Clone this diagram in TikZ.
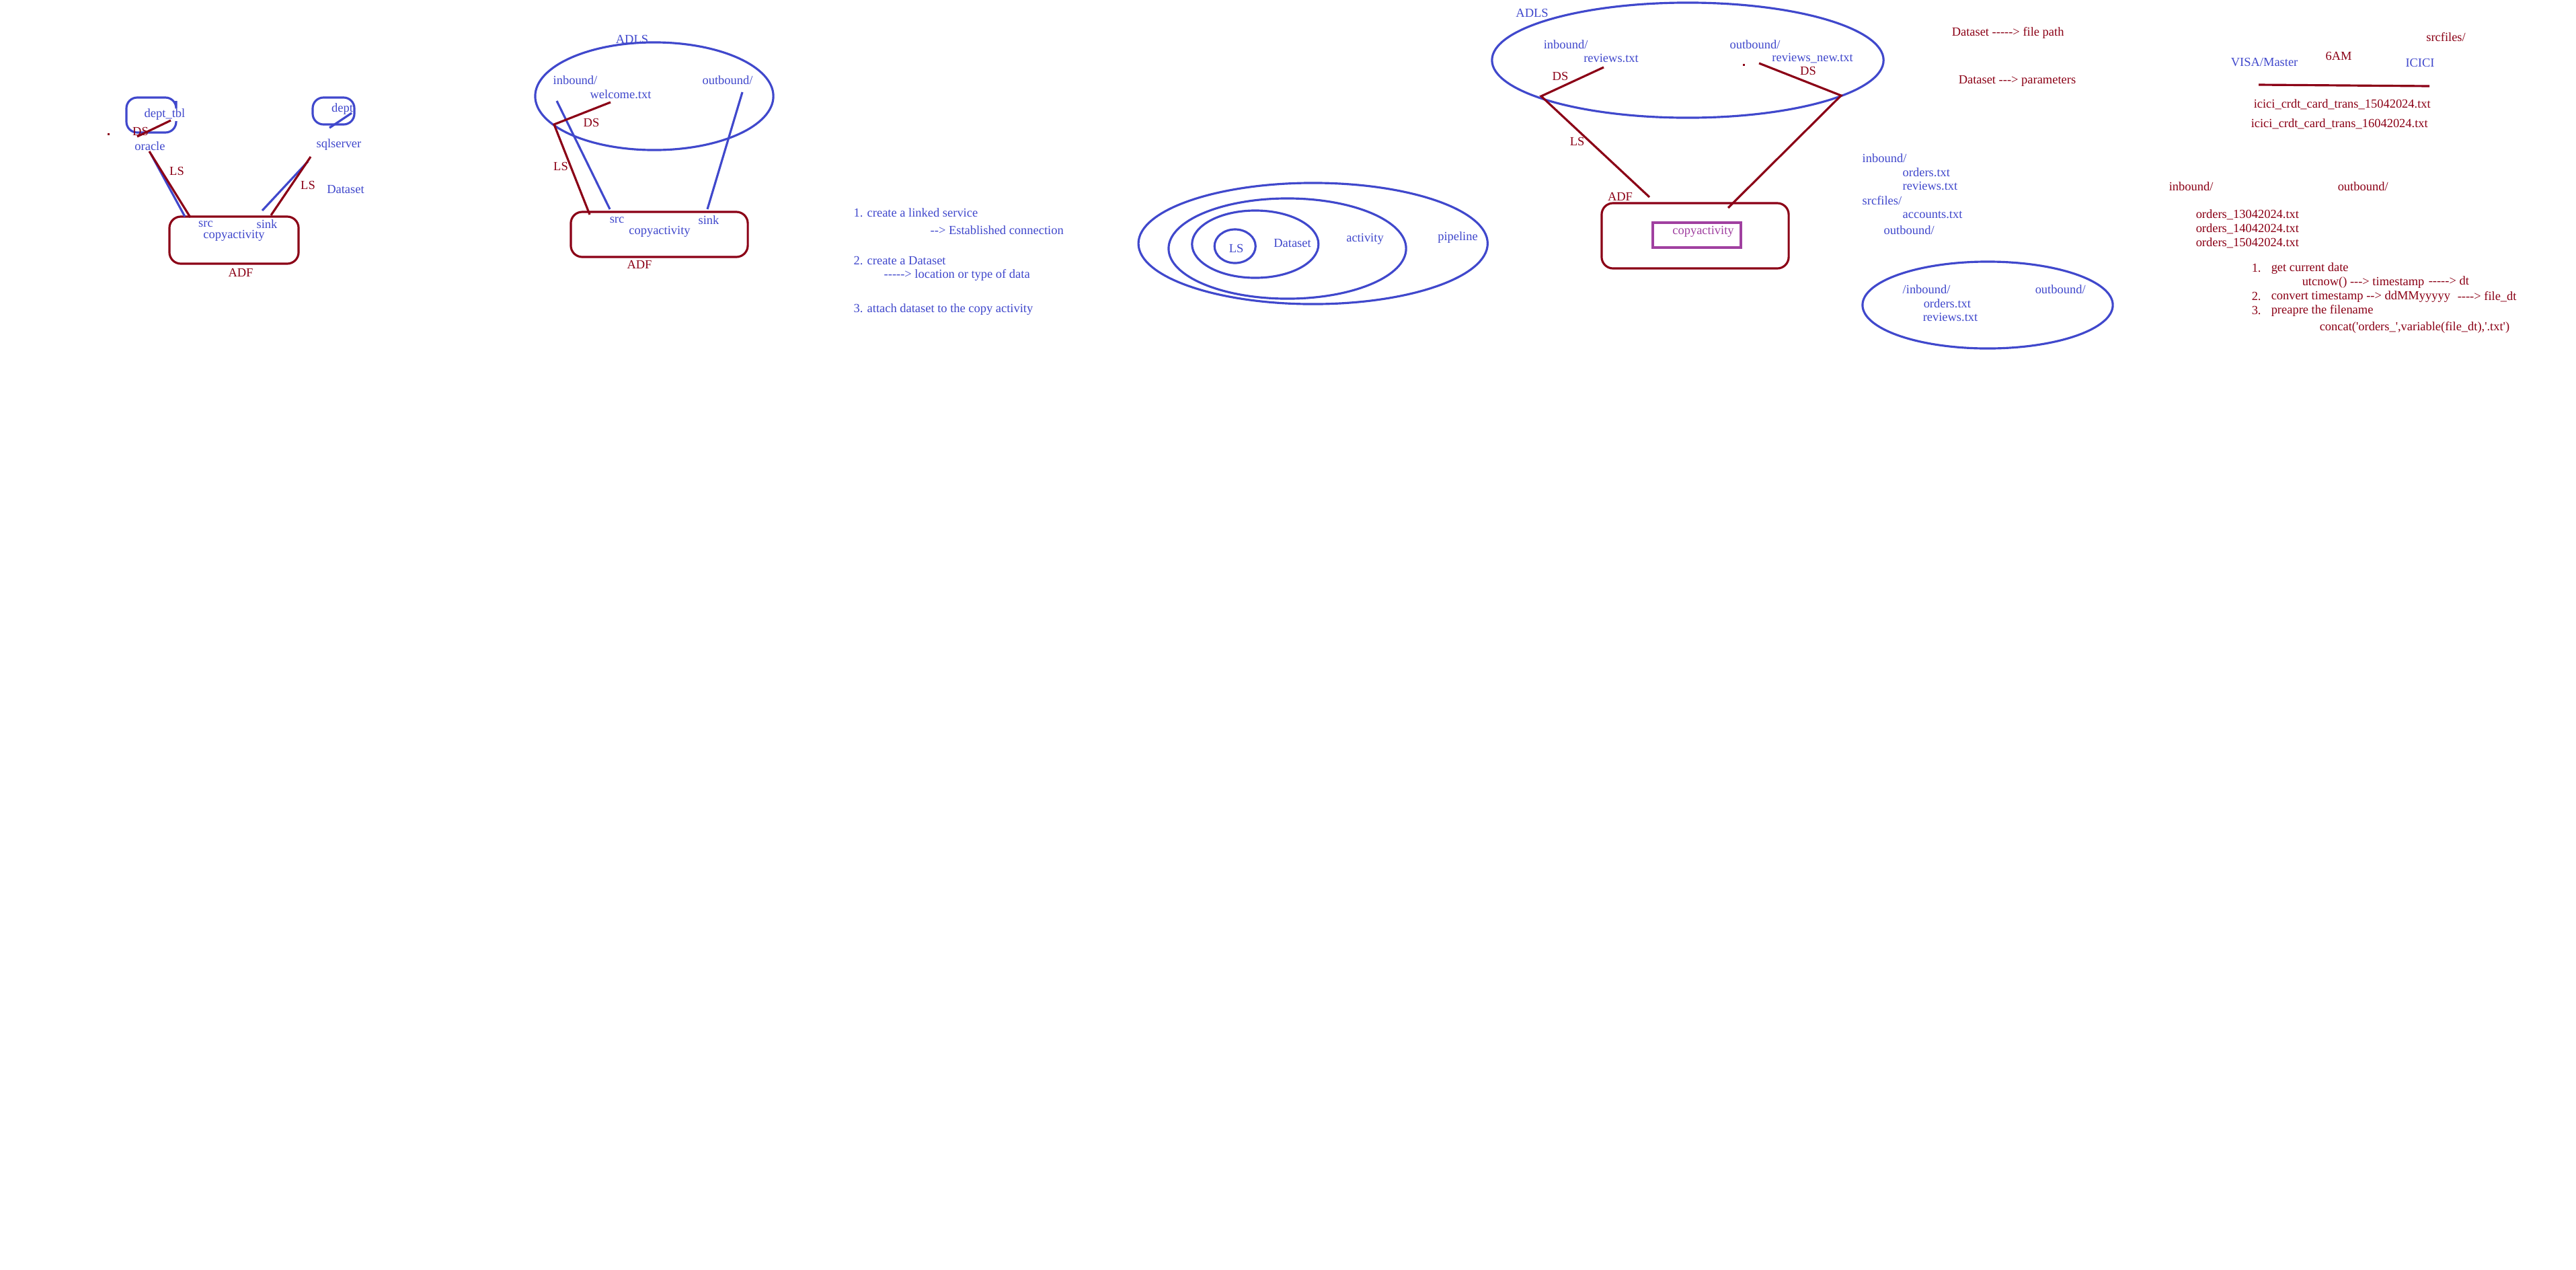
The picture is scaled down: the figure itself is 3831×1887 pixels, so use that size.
\documentclass[tikz,border=0pt]{standalone}
\usepackage{fontspec}
\setmainfont{Liberation Serif}[Ligatures=TeXOff]
\usetikzlibrary{shapes.geometric}
\definecolor{adfblue}{RGB}{64,72,204}
\definecolor{adfred}{RGB}{139,0,22}
\definecolor{adfpurple}{RGB}{160,64,160}
\tikzset{
  bl/.style={text=adfblue},
  rd/.style={text=adfred},
  bline/.style={draw=adfblue, line width=0.9pt},
  rline/.style={draw=adfred, line width=0.9pt},
  adfbox/.style={rline, rectangle, rounded corners=1.7mm},
  folder/.style={bline, rectangle, rounded corners=1.6mm},
  store/.style={bline, ellipse},
  lft/.style={anchor=west},
}
\begin{document}
\begin{tikzpicture}[x=0.01cm, y=-0.01cm, every node/.style={inner sep=0pt, font=\fontsize{5.25}{6.3}\selectfont}]
\useasboundingbox[fill=white] (0,0) rectangle (3831,1887);

% oracle -> ADF -> sqlserver
\draw[bline, rounded corners=1.6mm] (262,180) -- (262,197) -- (188,197) -- (188,145) -- (262,145) -- (262,150);
\node[folder, minimum width=0.62cm, minimum height=0.40cm] (deptbox) at (496,165) {};
\node[adfbox, minimum width=1.92cm, minimum height=0.70cm] (adf1) at (348,357) {};
\node[bl] (depttbl) at (245,170) {dept\_tbl};
\node[rd] (ds1) at (209,195) {DS};
\node[bl] (oracle) at (223,217) {oracle};
\node[rd] (ls1) at (263,254) {LS};
\node[bl] (dept) at (509,162) {dept};
\node[bl] (sqlserver) at (504,215) {sqlserver};
\node[rd] (ls2) at (458,275) {LS};
\node[bl] (dataset1) at (514,282) {Dataset};
\node[bl] (src1) at (306,333) {src};
\node[bl] (sink1) at (397,333) {sink};
\node[bl] (copy1) at (348,350) {copyactivity};
\node[rd] (adf1lbl) at (358,405) {ADF};
\coordinate (dsA) at (204,203); \coordinate (dsB) at (254,179);
\coordinate (lsA) at (222,225); \coordinate (lsB) at (283,323);
\coordinate (blA) at (225,230); \coordinate (blB) at (275,322);
\coordinate (deA) at (490,190); \coordinate (deB) at (523,168);
\coordinate (lsC) at (462,233); \coordinate (lsD) at (403,320);
\coordinate (blC) at (458,240); \coordinate (blD) at (390,313);
\draw[bline] (blA) -- (blB);
\draw[bline] (blC) -- (blD);
\draw[bline] (deA) -- (deB);
\draw[rline] (dsA) -- (dsB);
\draw[rline] (lsA) -- (lsB);
\draw[rline] (lsC) -- (lsD);
\fill[adfred] (159.5,197.5) rectangle +(3,3);

% ADLS -> ADF
\node[store, minimum width=3.54cm, minimum height=1.60cm] (adls2) at (973,143) {};
\node[adfbox, minimum width=2.63cm, minimum height=0.67cm] (adf2) at (980.5,348.5) {};
\node[bl] (adls2lbl) at (940,58) {ADLS};
\node[bl] (in2) at (855.5,119) {inbound/};
\node[bl] (welcome) at (923,140) {welcome.txt};
\node[bl] (out2) at (1082,119) {outbound/};
\node[rd] (ds2) at (879.5,182) {DS};
\node[rd] (ls3) at (834,247) {LS};
\node[bl] (src2) at (917.5,327) {src};
\node[bl] (sink2) at (1054,327) {sink};
\node[bl] (copy2) at (981,344) {copyactivity};
\node[rd] (adf2lbl) at (951,393) {ADF};
\coordinate (ds2a) at (908,152); \coordinate (ds2b) at (824,185);
\coordinate (ls2b) at (877,319);
\coordinate (bl2a) at (828,150); \coordinate (bl2b) at (907,311);
\coordinate (bl2c) at (1104,137); \coordinate (bl2d) at (1052,311);
\draw[bline] (bl2a) -- (bl2b);
\draw[bline] (bl2c) -- (bl2d);
\draw[rline] (ds2a) -- (ds2b) -- (ls2b);

% steps
\node[bl, lft] (step1) at (1269,316) {1. create a linked service};
\node[bl, lft] (step1b) at (1383,342) {--> Established connection};
\node[bl, lft] (step2) at (1269,388) {2. create a Dataset};
\node[bl, lft] (step2b) at (1314,409) {-----> location or type of data};
\node[bl, lft] (step3) at (1269,460) {3. attach dataset to the copy activity};

% nested scopes
\node[store, minimum width=5.19cm, minimum height=1.80cm] (pipe) at (1952.7,362) {};
\node[store, minimum width=3.53cm, minimum height=1.49cm] (act) at (1914.5,369.5) {};
\node[store, minimum width=1.88cm, minimum height=1.00cm] (dset) at (1866.8,363) {};
\node[store, minimum width=0.61cm, minimum height=0.50cm] (lsring) at (1836.7,366) {};
\node[bl] (lslbl) at (1838.5,369) {LS};
\node[bl] (dsetlbl) at (1922,362) {Dataset};
\node[bl] (actlbl) at (2030,355) {activity};
\node[bl] (pipelbl) at (2168,353) {pipeline};

% ADLS reviews -> ADF
\node[store, minimum width=5.82cm, minimum height=1.71cm] (adls3) at (2510,89.5) {};
\node[adfbox, minimum width=2.78cm, minimum height=0.97cm] (adf3) at (2521,350.5) {};
\node[rectangle, draw=adfpurple, line width=0.9pt, minimum width=1.31cm, minimum height=0.37cm] (copybox) at (2523.5,349.5) {};
\node[text=adfpurple] (copy3) at (2533,344) {copyactivity};
\node[bl] (adls3lbl) at (2278.5,19) {ADLS};
\node[bl] (in3) at (2328.6,66) {inbound/};
\node[bl] (rev3) at (2396,87) {reviews.txt};
\node[bl] (out3) at (2610,66) {outbound/};
\node[bl] (revnew) at (2695.6,87) {reviews\_new.txt};
\node[rd] (ds3) at (2320.5,113) {DS};
\node[rd] (ds4) at (2689,105) {DS};
\node[rd] (ls4) at (2345.5,210) {LS};
\node[rd] (adf3lbl) at (2409.5,292) {ADF};
\coordinate (ds3a) at (2385,100); \coordinate (ds3b) at (2292,143);
\coordinate (ls3b) at (2453,293);
\coordinate (ds3c) at (2616,94); \coordinate (ds3d) at (2738,142);
\coordinate (ls3d) at (2570,309);
\draw[rline] (ds3a) -- (ds3b) -- (ls3b);
\draw[rline] (ds3c) -- (ds3d) -- (ls3d);
\fill[adfred] (2591.5,94.5) rectangle +(3,3);

% folders
\node[rd, lft] (dsfile) at (2902,49) {Dataset -----> file path};
\node[rd, lft] (dsparam) at (2912,120) {Dataset ---> parameters};
\node[bl, lft] (in5) at (2769,235) {inbound/};
\node[bl, lft] (ord5) at (2829,256) {orders.txt};
\node[bl, lft] (rev5) at (2829,277) {reviews.txt};
\node[bl, lft] (src5) at (2769,298) {srcfiles/};
\node[bl, lft] (acc5) at (2829,319) {accounts.txt};
\node[bl, lft] (out5) at (2801,342) {outbound/};
\node[store, minimum width=3.72cm, minimum height=1.29cm] (adls4) at (2956,453.5) {};
\node[bl, lft] (in6) at (2829,430) {/inbound/};
\node[bl, lft] (out6) at (3026,430) {outbound/};
\node[bl, lft] (ord6) at (2860,451) {orders.txt};
\node[bl, lft] (rev6) at (2859,472) {reviews.txt};

% daily files
\node[rd] (srcf) at (3637.5,55) {srcfiles/};
\node[rd] (sixam) at (3478,83) {6AM};
\node[bl] (visa) at (3367.6,93) {VISA/Master};
\node[bl] (icici) at (3599,93) {ICICI};
\coordinate (rl1) at (3359,126); \coordinate (rl2) at (3613,128);
\draw[rline] (rl1) -- (rl2);
\node[rd, lft] (trans1) at (3351,155) {icici\_crdt\_card\_trans\_15042024.txt};
\node[rd, lft] (trans2) at (3347,184) {icici\_crdt\_card\_trans\_16042024.txt};
\node[rd, lft] (in7) at (3225,277) {inbound/};
\node[rd, lft] (out7) at (3476,277) {outbound/};
\node[rd, lft] (ord13) at (3265,319) {orders\_13042024.txt};
\node[rd, lft] (ord14) at (3265,340) {orders\_14042024.txt};
\node[rd, lft] (ord15) at (3265,361) {orders\_15042024.txt};
\node[rd, lft] (n1) at (3348,399) {1.};
\node[rd, lft] (get) at (3377,399) {get current date};
\node[rd, lft] (utc) at (3423,420) {utcnow() ---> timestamp};
\node[rd, lft] (dt) at (3611,417) {-----> dt};
\node[rd, lft] (n2) at (3348,441) {2.};
\node[rd, lft] (conv) at (3377,441) {convert timestamp --> ddMMyyyyy};
\node[rd, lft] (filedt) at (3654,441) {----> file\_dt};
\node[rd, lft] (n3) at (3348,462) {3.};
\node[rd, lft] (prep) at (3377,462) {preapre the filename};
\node[rd, lft] (concat) at (3449,487) {concat('orders\_',variable(file\_dt),'.txt')};
\end{tikzpicture}
\end{document}
